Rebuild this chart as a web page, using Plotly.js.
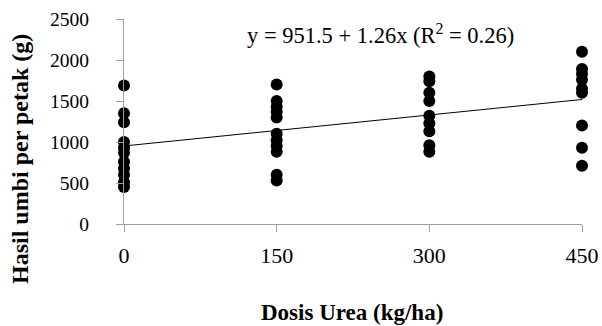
<!DOCTYPE html>
<html>
<head>
<meta charset="utf-8">
<script src="https://cdn.plot.ly/plotly-3.0.1.min.js"></script>
<style>html,body{margin:0;padding:0;background:#fff;}#chart{width:602px;height:326px;}</style>
</head>
<body>
<div id="chart"></div>
<script>
// Doses (kg/ha) and yields per plot (g)
var doses = [0, 150, 300, 450];
var yield0 = [1690, 1350, 1240, 1000, 930, 870, 760, 680, 600, 510, 450];
var yield150 = [1700, 1500, 1430, 1370, 1300, 1100, 1020, 950, 880, 600, 530];
var yield300 = [1800, 1740, 1600, 1500, 1320, 1230, 1130, 960, 880];
var yield450 = [2100, 1890, 1830, 1760, 1650, 1600, 1200, 930, 710];
var intercept = 951.5;
var slope = 1.26;
var r2 = 0.26;
var xTicks = [0, 150, 300, 450];
var yTicks = [0, 500, 1000, 1500, 2000, 2500];

var groups = [yield0, yield150, yield300, yield450];
var xs = [], ys = [];
groups.forEach(function (g, i) {
  g.forEach(function (v) { xs.push(doses[i]); ys.push(v); });
});

var fitX = [doses[0], doses[doses.length - 1]];
var fitY = fitX.map(function (x) { return intercept + slope * x; });

var serif = "'Liberation Serif', 'Times New Roman', serif";

var data = [
  {
    x: xs, y: ys, mode: 'markers', type: 'scatter', xaxis: 'x', yaxis: 'y',
    marker: {color: '#000', size: 12}, cliponaxis: false
  },
  {
    x: fitX, y: fitY, mode: 'lines', type: 'scatter', xaxis: 'x', yaxis: 'y2',
    line: {color: '#000', width: 1}, hoverinfo: 'skip', cliponaxis: false
  }
];

var layout = {
  width: 602, height: 326,
  margin: {l: 0, r: 20, t: 19, b: 102},
  paper_bgcolor: '#fff', plot_bgcolor: '#fff',
  showlegend: false,
  font: {family: serif, color: '#000', size: 18},
  xaxis: {
    domain: [124 / 582, 1],
    range: [0, 450], tickvals: xTicks, ticktext: xTicks.map(String),
    showgrid: false, zeroline: false, showline: true, linecolor: '#a0a0a0', linewidth: 1,
    ticks: 'outside', ticklen: 7, tickcolor: '#a0a0a0', tickwidth: 1,
    tickfont: {family: serif, size: 22, color: '#000'}, ticklabelstandoff: 5,
    fixedrange: true
  },
  yaxis: {
    range: [0, 2500], tickvals: yTicks, showticklabels: false,
    showgrid: false, zeroline: false, showline: true, linecolor: '#a0a0a0', linewidth: 1,
    ticks: 'outside', ticklen: 7, tickcolor: '#a0a0a0', tickwidth: 1,
    fixedrange: true
  },
  yaxis2: {
    overlaying: 'y', matches: 'y', anchor: 'free', side: 'left', position: 89 / 582,
    range: [0, 2500], tickvals: yTicks, ticktext: yTicks.map(String),
    showgrid: false, zeroline: false, showline: false, ticks: '', ticklen: 0,
    tickfont: {family: serif, size: 19.5, color: '#000'},
    fixedrange: true
  },
  annotations: [
    {
      xref: 'paper', yref: 'paper', x: 380 / 582, y: 0.925, xanchor: 'center', yanchor: 'middle',
      text: 'y = ' + intercept + ' + ' + slope + 'x (R<sup>2</sup> = ' + r2 + ')',
      showarrow: false, font: {family: serif, size: 22.5, color: '#000'}
    },
    {
      xref: 'paper', yref: 'paper', x: 352 / 582, y: -0.43, xanchor: 'center', yanchor: 'middle',
      text: '<b>Dosis Urea (kg/ha)</b>', showarrow: false,
      font: {family: serif, size: 23, color: '#000'}
    },
    {
      xref: 'paper', yref: 'paper', x: 20 / 582, y: 0.317, xanchor: 'center', yanchor: 'middle',
      text: '<b>Hasil umbi per petak (g)</b>', textangle: -90, showarrow: false,
      font: {family: serif, size: 24, color: '#000'}
    }
  ]
};

Plotly.newPlot('chart', data, layout, {displayModeBar: false, staticPlot: true});
</script>
</body>
</html>
